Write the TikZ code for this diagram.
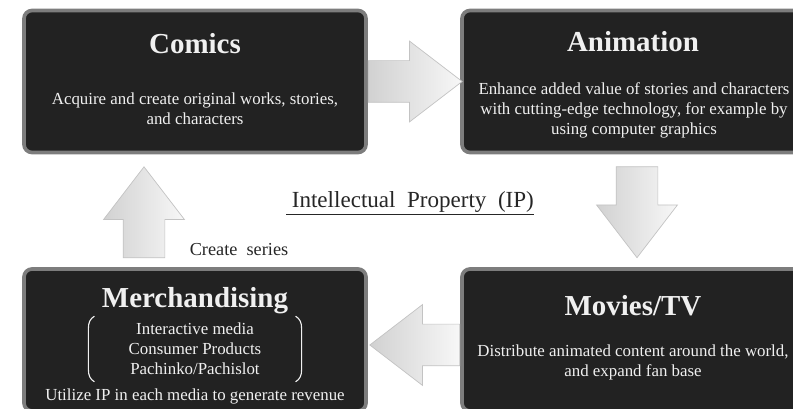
\documentclass[tikz,border=0pt]{standalone}
\usepackage{fontspec}
\setmainfont{Liberation Serif}
\usepackage{tikz}
\usetikzlibrary{calc, shapes.arrows, shadows}
\definecolor{boxfill}{RGB}{34,34,34}
\definecolor{boxrim}{RGB}{125,125,125}
\definecolor{boxtext}{RGB}{240,240,240}
\definecolor{arrowrim}{RGB}{195,195,195}
\tikzset{
  %------------------%
  %   Stage boxes    %
  %------------------%
  % Dark box with a grey rim
  box_stage/.style={
    rectangle,
    rounded corners=0.2cm,
    minimum width=8.55cm,
    minimum height=3.55cm,
    draw=boxrim,
    line width=2.6pt,
    fill=boxfill,
    drop shadow={shadow xshift=0.5pt, shadow yshift=-1pt, opacity=0.3}
  },
  % Heading inside a box
  txt_title/.style={
    text=boxtext,
    font=\fontsize{20.6}{24}\selectfont\bfseries,
    inner sep=0pt
  },
  % Plain text inside a box
  txt_body/.style={
    text=boxtext,
    align=center,
    font=\fontsize{12}{14.2}\selectfont,
    inner sep=0pt
  },
  % Round brackets round the list
  bracket/.style={
    draw=boxtext,
    line width=0.8pt
  },
  %----------------%
  %  Block arrows  %
  %----------------%
  blk_arrow/.style={
    single arrow,
    anchor=tail,
    draw=arrowrim,
    line width=0.5pt,
    left color=black!18,
    right color=black!3,
    inner xsep=0pt,
    inner ysep=0.5125cm,
    single arrow head extend=0.49cm,
    single arrow tip angle=75
  },
  % Text on the white ground
  txt_plain/.style={
    text=black!85,
    inner sep=0pt
  },
}

\begin{document}
\begin{tikzpicture}
    \useasboundingbox (0,0) rectangle (19.825,-10.225);

    %-----------%
    %  Stages   %
    %-----------%
    % Comics
    \node (comics) [box_stage] at (4.875, -2.0375) {};
    \node (comics_title) [txt_title] at (4.875, -1.1) {Comics};
    \node (comics_text) [txt_body] at (4.875, -2.725) {Acquire and create original\ works, stories,\\ and characters};

    % Animation
    \node (anim) [box_stage] at (15.825, -2.0375) {};
    \node (anim_title) [txt_title] at (15.825, -1.05) {Animation};
    \node (anim_text) [txt_body] at (15.85, -2.75) {Enhance added value of stories and characters\\ with cutting-edge technology, for example by\\ using computer graphics};

    % Movies/TV
    \node (movies) [box_stage] at (15.825, -8.5) {};
    \node (movies_title) [txt_title] at (15.825, -7.65) {Movies/TV};
    \node (movies_text) [txt_body] at (15.825, -9.06) {Distribute animated content around the world,\\ and expand fan base};

    % Merchandising
    \node (merch) [box_stage] at (4.875, -8.5) {};
    \node (merch_title) [txt_title] at (4.875, -7.525) {Merchandising};
    \node (merch_list) [txt_body] at (4.875, -8.725) {Interactive media\\ Consumer Products\\ Pachinko/Pachislot};
    \node (merch_text) [txt_body] at (4.875, -9.9) {Utilize\ IP in each media to generate revenue};
    % Brackets
    \draw [bracket] ($(merch_list.west)+(-0.85,0.82)$) to[out=-150,in=90] ++(-0.15,-0.3) -- ++(0,-1.04) to[out=-90,in=150] ++(0.15,-0.3);
    \draw [bracket] ($(merch_list.east)+(0.85,0.82)$) to[out=-30,in=90] ++(0.15,-0.3) -- ++(0,-1.04) to[out=-90,in=30] ++(-0.15,-0.3);

    %----------%
    %  Labels  %
    %----------%
    \node (ip) [txt_plain, font=\fontsize{16.4}{19}\selectfont] at (10.25, -5.075) {\underline{\ Intellectual\ \ Property\ \ (IP)}};
    \node (series) [txt_plain, font=\fontsize{13}{15}\selectfont] at (5.975, -6.25) {Create\ \ series};

    %----------%
    %  Arrows  %
    %----------%
    % Comics --> Animation
    \node (arr_right) [blk_arrow, minimum height=2.35cm] at (comics.east) {};
    % Animation --> Movies/TV
    \node (arr_down) [blk_arrow, minimum height=2.275cm, rotate=-90] at ($(anim.south)+(0.1,-0.3)$) {};
    % Movies/TV --> Merchandising
    \node (arr_left) [blk_arrow, minimum height=2.25cm, rotate=180] at ($(movies.west)+(0,-0.125)$) {};
    % Merchandising --> Comics
    \node (arr_up) [blk_arrow, minimum height=2.275cm, rotate=90] at ($(merch.north)+(-1.275,0.225)$) {};
\end{tikzpicture}
\end{document}
